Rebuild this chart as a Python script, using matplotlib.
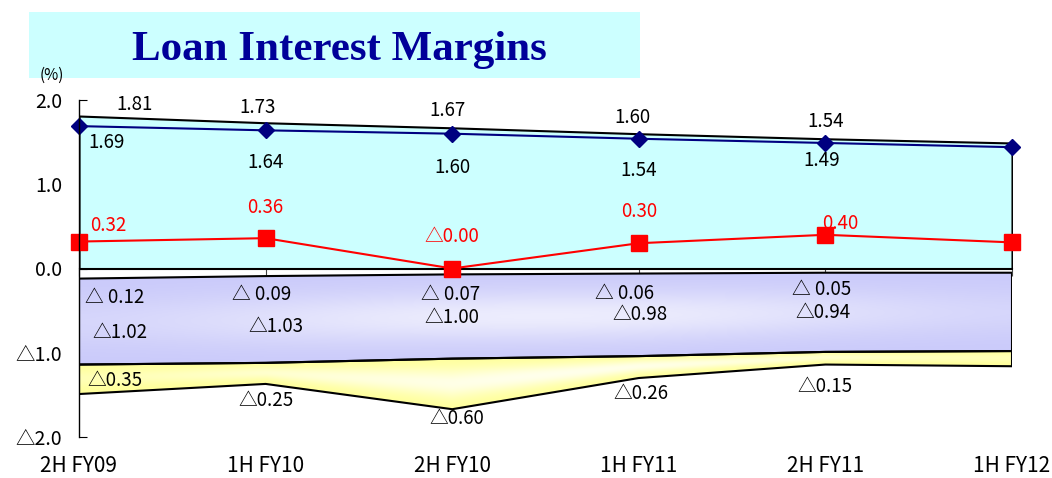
import numpy as np
import matplotlib
matplotlib.use("Agg")
import matplotlib.pyplot as plt
from matplotlib.patches import Rectangle

# Dados do gráfico
periodos = ['2H FY09', '1H FY10', '2H FY10', '1H FY11', '2H FY11', '1H FY12']
topo = [1.81, 1.73, 1.67, 1.60, 1.54, 1.49]
margem = [1.69, 1.64, 1.60, 1.54, 1.49, 1.44]
vermelho = [0.32, 0.36, 0.00, 0.30, 0.40, 0.31]
roxo_topo = [-0.12, -0.09, -0.07, -0.06, -0.05, -0.05]
roxo_altura = [1.02, 1.03, 1.00, 0.98, 0.94, 0.93]
amarelo_altura = [0.35, 0.25, 0.60, 0.26, 0.15, 0.18]

xs = np.arange(len(periodos))
roxo_topo = np.array(roxo_topo)
roxo_base = roxo_topo - np.array(roxo_altura)
amarelo_base = roxo_base - np.array(amarelo_altura)

FONTE = ['Noto Sans CJK JP', 'DejaVu Sans']
plt.rcParams['font.family'] = FONTE


def tri(v):
    return f'△{abs(v):.2f}' if v <= 0 else f'{v:.2f}'


def faixa_degrade(ax, upper, lower, cor, z, forca):
    poly = ax.fill_between(xs, lower, upper, facecolor='none', edgecolor='black',
                           lw=1.5, zorder=z + 1)
    nx, ny = 500, 200
    gx = np.linspace(0, 5, nx)
    sup = np.interp(gx, xs, upper)
    inf = np.interp(gx, xs, lower)
    ylo, yhi = min(lower), max(upper)
    gy = np.linspace(ylo, yhi, ny)
    t = (gy[:, None] - inf[None, :]) / (sup - inf)[None, :]
    w = np.exp(-((t - 0.5) / 0.3) ** 2) * forca
    w *= (0.35 + 0.65 * np.sin(np.pi * gx / 5) ** 1.5)[None, :]
    base = np.array(matplotlib.colors.to_rgb(cor))
    img = base[None, None, :] * (1 - w[..., None]) + w[..., None]
    im = ax.imshow(img, extent=(0, 5, ylo, yhi), origin='lower', aspect='auto',
                   zorder=z, interpolation='bilinear')
    im.set_clip_path(poly.get_paths()[0], transform=ax.transData)


fig = plt.figure(figsize=(10.52, 4.78), dpi=100)
ax = fig.add_axes([79 / 1052, 1 - 437 / 478, 933 / 1052, 337 / 478])

# Área ciano
ax.fill_between(xs, 0, topo, facecolor='#CCFFFF', edgecolor='black', lw=1.5, zorder=2)

# Faixas abaixo de zero
faixa_degrade(ax, roxo_topo, roxo_base, '#CACAFA', 2, 0.65)
faixa_degrade(ax, roxo_base, amarelo_base, '#FFFF99', 2, 0.8)

# Linhas
ax.plot(xs, margem, color='#000080', lw=1.5, marker='D', markersize=8,
        zorder=5, clip_on=False)
ax.plot(xs, vermelho, color='red', lw=1.5, marker='s', markersize=11,
        zorder=6, clip_on=False)

# Rótulos (deslocamento em pixels)
fs = 13.5
off_topo = [(56, 12), (-8, 15), (-5, 17), (-6, 16), (0, 17)]
off_margem = [(28, -16), (0, -32), (0, -34), (0, -32), (-4, -18)]
off_verm = [(29, 16), (0, 31), (0, 32), (0, 32), (15, 11)]
off_roxo1 = [(36, -19), (-4, -18), (-2, -20), (-14, -20), (-4, -17)]
off_roxo2 = [(41, -54), (10, -50), (0, -43), (1, -41), (-2, -40)]
off_amar = [(36, 14), (0, -17), (5, -9), (2, -15), (0, -22)]

for i in range(5):
    ax.annotate(f'{topo[i]:.2f}', (xs[i], topo[i]), xytext=off_topo[i],
                textcoords='offset pixels', ha='center', va='center', fontsize=fs, zorder=8)
    ax.annotate(f'{margem[i]:.2f}', (xs[i], margem[i]), xytext=off_margem[i],
                textcoords='offset pixels', ha='center', va='center', fontsize=fs, zorder=8)
    ax.annotate(tri(vermelho[i]), (xs[i], vermelho[i]), xytext=off_verm[i],
                textcoords='offset pixels', ha='center', va='center', fontsize=fs,
                color='red', zorder=8)
    ax.annotate(f'△ {abs(roxo_topo[i]):.2f}', (xs[i], roxo_topo[i]), xytext=off_roxo1[i],
                textcoords='offset pixels', ha='center', va='center', fontsize=fs, zorder=8)
    ax.annotate(f'△{roxo_altura[i]:.2f}', (xs[i], roxo_topo[i]), xytext=off_roxo2[i],
                textcoords='offset pixels', ha='center', va='center', fontsize=fs, zorder=8)
    ax.annotate(f'△{amarelo_altura[i]:.2f}', (xs[i], amarelo_base[i]), xytext=off_amar[i],
                textcoords='offset pixels', ha='center', va='center', fontsize=fs, zorder=8)

# Eixos
ax.set_xlim(0, 5)
ax.set_ylim(-2, 2)
for s in ['top', 'right', 'bottom']:
    ax.spines[s].set_visible(False)
ax.spines['left'].set_linewidth(1.0)
ax.spines['left'].set_zorder(7)
yt = [2, 1, 0, -1, -2]
ax.set_yticks(yt)
ax.set_yticklabels([f'△{abs(v):.1f}' if v < 0 else f'{v:.1f}' for v in yt],
                   fontsize=14)
ax.tick_params(axis='y', direction='in', length=6, pad=12)
ax.set_xticks(xs)
ax.set_xticklabels(periodos, fontsize=15)
ax.tick_params(axis='x', length=0, pad=13)

sec = ax.secondary_xaxis(0.5)
sec.set_xticks(xs)
sec.set_xticklabels([])
sec.tick_params(direction='in', length=6, color='#444444')
sec.spines['bottom'].set_visible(False)

# Título
fig.patches.append(Rectangle((29 / 1052, 1 - 78 / 478), 611 / 1052, 66 / 478,
                             transform=fig.transFigure, facecolor='#CCFFFF',
                             edgecolor='none', zorder=0))
fig.text(339 / 1052, 1 - 50 / 478, 'Loan Interest Margins', ha='center', va='center',
         fontsize=31, fontweight='bold', family='Liberation Serif', color='#000099')
fig.text(52 / 1052, 1 - 75 / 478, '(%)', ha='center', va='center', fontsize=11)

fig.savefig('out.png', dpi=100)
